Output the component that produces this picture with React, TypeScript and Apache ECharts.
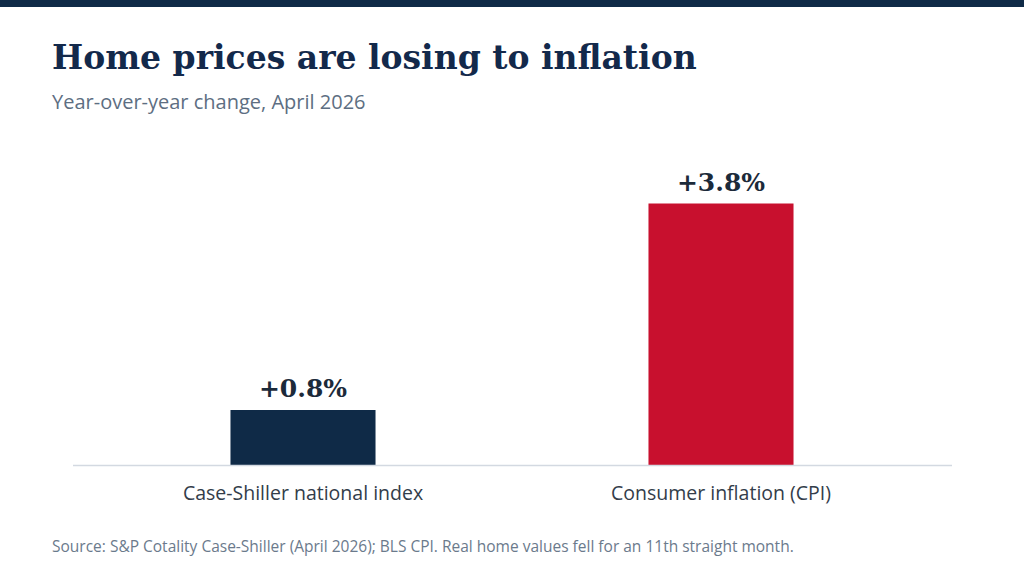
import React, { useEffect, useRef } from "react";
import * as echarts from "echarts";

const categories = ["Case-Shiller national index", "Consumer inflation (CPI)"];
const values = [0.8, 3.8];
const barColors = ["#0f2a47", "#c8102e"];
const titleText = "Home prices are losing to inflation";
const subtitleText = "Year-over-year change, April 2026";
const sourceText =
  "Source: S&P Cotality Case-Shiller (April 2026); BLS CPI. Real home values fell for an 11th straight month.";

const serif = "Georgia, 'DejaVu Serif', serif";
const sans = "'Segoe UI', 'Open Sans', 'Noto Sans', sans-serif";

export default function App() {
  const ref = useRef<HTMLDivElement>(null);
  useEffect(() => {
    if (!ref.current) return;
    const chart = echarts.init(ref.current, undefined, { renderer: "svg" });
    chart.setOption({
      animation: false,
      backgroundColor: "#ffffff",
      grid: { left: 94, right: 94, top: 121, bottom: 111, containLabel: false },
      xAxis: {
        type: "category",
        data: categories,
        axisLine: { show: false },
        axisTick: { show: false },
        axisLabel: {
          margin: 17,
          fontFamily: sans,
          fontSize: 19.5,
          color: "#333d4a",
        },
      },
      yAxis: {
        type: "value",
        min: 0,
        max: 5,
        show: false,
        splitLine: { show: false },
      },
      series: [
        {
          type: "bar",
          barWidth: "34.7%",
          data: values.map((v, i) => ({ value: v, itemStyle: { color: barColors[i] } })),
          label: {
            show: true,
            position: "top",
            distance: 9,
            fontFamily: serif,
            fontWeight: "bold",
            fontSize: 25,
            color: "#1c2a3a",
            formatter: (p: any) => "+" + Number(p.value).toFixed(1) + "%",
          },
        },
      ],
      graphic: [
        {
          type: "rect",
          shape: { x: 0, y: 0, width: 1024, height: 7 },
          style: { fill: "#0f2a47" },
        },
        {
          type: "line",
          shape: { x1: 73, y1: 465.5, x2: 952, y2: 465.5 },
          style: { stroke: "#d3d9e1", lineWidth: 1.5 },
          z: 10,
        },
        {
          type: "text",
          left: 52,
          top: 41,
          style: {
            text: titleText,
            font: `bold 33px ${serif}`,
            fill: "#13294b",
          },
        },
        {
          type: "text",
          left: 52,
          top: 91,
          style: {
            text: subtitleText,
            font: `20px ${sans}`,
            fill: "#5d6e82",
          },
        },
        {
          type: "text",
          left: 52,
          top: 538,
          style: {
            text: sourceText,
            font: `15.5px ${sans}`,
            fill: "#6b7a8c",
          },
        },
      ],
    });
    return () => chart.dispose();
  }, []);
  return <div ref={ref} style={{ width: 1024, height: 576, position: "fixed", left: 0, top: 0 }} />;
}
